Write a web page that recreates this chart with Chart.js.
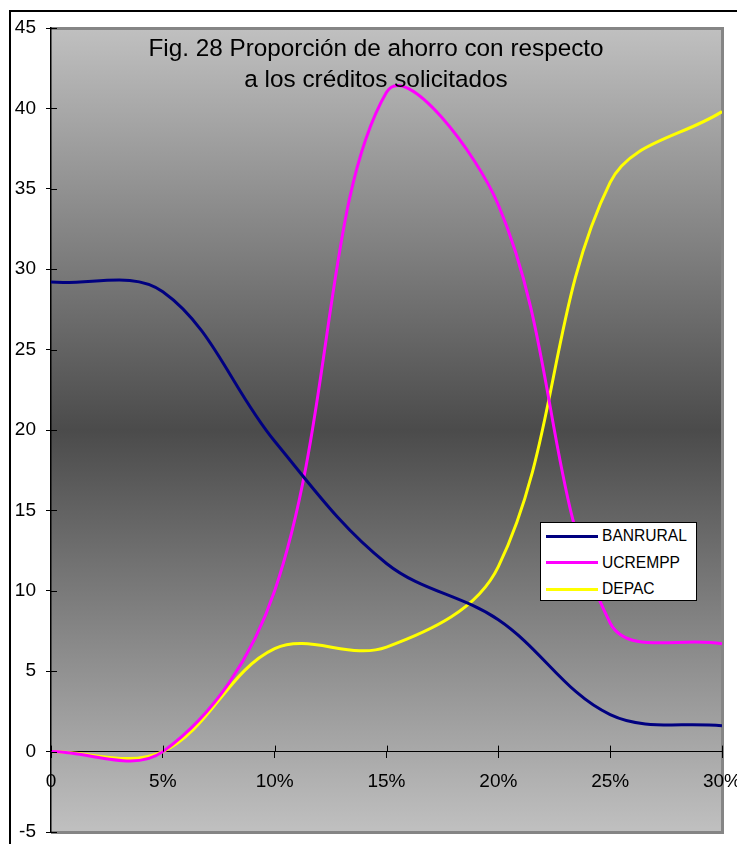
<!DOCTYPE html>
<html>
<head>
<meta charset="utf-8">
<script src="https://cdn.jsdelivr.net/npm/chart.js@4.4.1/dist/chart.umd.min.js"></script>
<style>
  html, body { margin: 0; padding: 0; background: #fff; overflow: hidden; }
  #wrap { position: relative; width: 737px; height: 844px; overflow: hidden; }
  #frame { position: absolute; left: 9px; top: 10px; width: 900px; height: 900px;
           border: 2px solid #000; box-sizing: border-box; }
  #c { position: absolute; left: 0; top: 0; }
  #title { position: absolute; left: 51px; width: 650px; top: 32px; text-align: center;
           font-family: "Liberation Sans", Arial, sans-serif; font-size: 24.3px; line-height: 31px;
           color: #000; pointer-events: none; }
  #legend { position: absolute; left: 540px; top: 522px; width: 157px; height: 79px;
            box-sizing: border-box; border: 1px solid #000; background: #fff;
            font-family: "Liberation Sans", Arial, sans-serif; font-size: 15.6px; color: #000; }
  #legend .item { position: absolute; left: 5px; height: 20px; display: flex; align-items: center; }
  #legend .swatch { width: 52px; height: 3px; margin-right: 4px; }
</style>
</head>
<body>
<div id="wrap">
  <div id="frame"></div>
  <canvas id="c" width="737" height="844"></canvas>
  <div id="title">Fig. 28 Proporción de ahorro con respecto<br>a los créditos solicitados</div>
  <div id="legend"></div>
</div>
<script>
// Tasa de interés (%) en el eje horizontal
const tasas = [0, 5, 10, 15, 20, 25, 30];
// Proporción de ahorro por institución
const banrural = [29.2, 28.6, 19.3, 11.7, 8.2, 2.3, 1.6];
const ucrempp  = [0, 0, 10.0, 41.0, 34.0, 8.0, 6.7];
const depac    = [0, 0, 6.4, 6.5, 11.5, 35.4, 39.8];
// Marcas de los ejes
const yTicks = [-5, 0, 5, 10, 15, 20, 25, 30, 35, 40, 45];
const xTicks = [0, 5, 10, 15, 20, 25, 30];

const FONT = '"Liberation Sans", Arial, sans-serif';

function pts(vals) { return vals.map((v, i) => ({ x: tasas[i], y: v })); }

// Fondo degradado del área de trazado y su marco gris
const plotBackground = {
  id: 'plotBackground',
  beforeDraw(chart) {
    const { ctx, chartArea: a } = chart;
    const g = ctx.createLinearGradient(0, a.top, 0, a.bottom);
    g.addColorStop(0, '#c0c0c0');
    g.addColorStop(0.5, '#4b4b4b');
    g.addColorStop(1, '#c0c0c0');
    ctx.save();
    ctx.fillStyle = g;
    ctx.fillRect(a.left, a.top, a.right - a.left, a.bottom - a.top);
    ctx.strokeStyle = '#858585';
    ctx.lineWidth = 3;
    ctx.beginPath();
    ctx.moveTo(a.left, a.top + 0.5);
    ctx.lineTo(a.right + 0.5, a.top + 0.5);
    ctx.lineTo(a.right + 0.5, a.bottom + 0.5);
    ctx.lineTo(a.left, a.bottom + 0.5);
    ctx.stroke();
    ctx.restore();
  }
};

// Parte interior de las marcas, para que crucen los ejes
const innerTicks = {
  id: 'innerTicks',
  afterDatasetsDraw(chart) {
    const { ctx, scales: { x, y } } = chart;
    const y0 = y.getPixelForValue(0);
    const left = chart.chartArea.left;
    ctx.save();
    ctx.strokeStyle = '#000';
    ctx.lineWidth = 1;
    ctx.beginPath();
    xTicks.forEach(t => {
      const px = Math.round(x.getPixelForValue(t)) + 0.5;
      ctx.moveTo(px, y0 - 6);
      ctx.lineTo(px, y0);
    });
    yTicks.forEach(t => {
      const py = Math.round(y.getPixelForValue(t)) + 0.5;
      ctx.moveTo(left, py);
      ctx.lineTo(left + 6, py);
    });
    ctx.stroke();
    ctx.restore();
  }
};

const chart = new Chart(document.getElementById('c'), {
  type: 'line',
  data: {
    datasets: [
      { label: 'BANRURAL', data: pts(banrural), borderColor: '#000080', backgroundColor: '#000080' },
      { label: 'UCREMPP',  data: pts(ucrempp),  borderColor: '#ff00ff', backgroundColor: '#ff00ff' },
      { label: 'DEPAC',    data: pts(depac),    borderColor: '#ffff00', backgroundColor: '#ffff00' }
    ]
  },
  options: {
    responsive: false,
    animation: false,
    devicePixelRatio: 1,
    layout: { padding: { left: 0, top: 28, right: 15, bottom: 12 } },
    elements: {
      line: { borderWidth: 3, tension: 0.36, fill: false },
      point: { radius: 0, hoverRadius: 0 }
    },
    plugins: {
      legend: { display: false },
      title: { display: false },
      tooltip: { enabled: false }
    },
    scales: {
      x: {
        type: 'linear',
        position: { y: 0 },
        min: 0, max: 30,
        afterBuildTicks: s => { s.ticks = xTicks.map(v => ({ value: v })); },
        afterFit: s => { s.paddingLeft = 0; s.paddingRight = 0; s.paddingTop = 0; s.paddingBottom = 0; },
        ticks: {
          color: '#000', font: { family: FONT, size: 19 }, padding: 13, maxRotation: 0,
          callback: v => v === 0 ? '0' : v + '%'
        },
        grid: { drawOnChartArea: false, drawTicks: true, tickLength: 6, color: '#000' },
        border: { display: true, color: '#000', width: 1 }
      },
      y: {
        type: 'linear',
        position: 'left',
        min: -5, max: 45,
        afterBuildTicks: s => { s.ticks = yTicks.map(v => ({ value: v })); },
        afterFit: s => { s.width = 51; s.paddingTop = 0; s.paddingBottom = 0; },
        ticks: { color: '#000', font: { family: FONT, size: 19 }, padding: 10 },
        grid: { drawOnChartArea: false, drawTicks: true, tickLength: 5, color: '#000' },
        border: { display: true, color: '#000', width: 1.5 }
      }
    }
  },
  plugins: [plotBackground, innerTicks]
});

// Leyenda construida a partir de las series del gráfico
const legend = document.getElementById('legend');
chart.data.datasets.forEach((ds, i) => {
  const item = document.createElement('div');
  item.className = 'item';
  item.style.top = (3 + i * 26.5) + 'px';
  const sw = document.createElement('span');
  sw.className = 'swatch';
  sw.style.background = ds.borderColor;
  const tx = document.createElement('span');
  tx.textContent = ds.label;
  item.appendChild(sw);
  item.appendChild(tx);
  legend.appendChild(item);
});
</script>
</body>
</html>
